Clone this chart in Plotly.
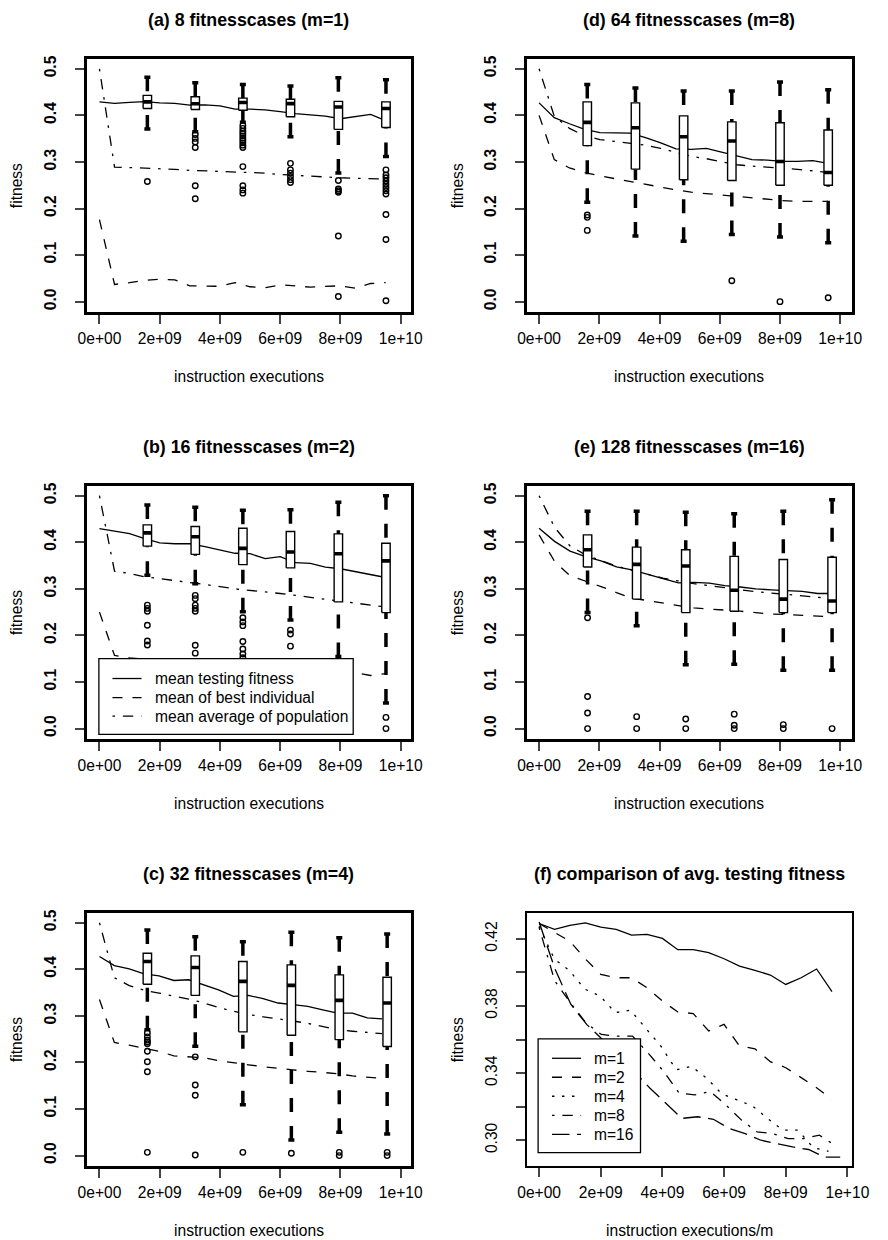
import plotly.graph_objects as go

FONT = "Liberation Sans, Arial, Helvetica, sans-serif"

# ---------------- data ----------------
X_M1 = [0.0, 0.5e9, 1.0e9, 1.5e9, 2.0e9, 2.5e9, 3.0e9, 3.5e9, 4.0e9, 4.5e9,
        5.0e9, 5.5e9, 6.0e9, 6.5e9, 7.0e9, 7.5e9, 8.0e9, 8.5e9, 9.0e9, 9.5e9]
X_M2 = [0.0, 0.5e9, 1.0e9, 1.5e9, 2.0e9, 2.5e9, 3.0e9, 3.5e9, 4.0e9, 4.5e9,
        5.0e9, 5.5e9, 6.0e9, 6.5e9, 7.0e9, 7.5e9, 8.0e9, 8.5e9, 9.0e9, 9.5e9]
X_M4 = [0.0, 0.494e9, 0.988e9, 1.482e9, 1.976e9, 2.47e9, 2.964e9, 3.458e9, 3.952e9, 4.446e9,
        4.94e9, 5.434e9, 5.928e9, 6.422e9, 6.916e9, 7.41e9, 7.904e9, 8.398e9, 8.892e9, 9.386e9]
X_M8 = [0.0, 0.505e9, 1.01e9, 1.515e9, 2.02e9, 2.525e9, 3.03e9, 3.535e9, 4.04e9, 4.545e9,
        5.05e9, 5.555e9, 6.06e9, 6.565e9, 7.07e9, 7.575e9, 8.08e9, 8.585e9, 9.09e9, 9.595e9]
X_M16 = [0.0, 0.514e9, 1.028e9, 1.542e9, 2.056e9, 2.57e9, 3.084e9, 3.598e9, 4.112e9, 4.626e9,
         5.14e9, 5.654e9, 6.168e9, 6.682e9, 7.196e9, 7.71e9, 8.224e9, 8.738e9, 9.252e9, 9.766e9]

# mean testing fitness (shared by panels a-e and f)
MEAN_M1 = [0.4291, 0.4256, 0.428, 0.4295, 0.4269, 0.4256, 0.4222, 0.4226, 0.4202, 0.4135,
           0.4135, 0.4117, 0.4081, 0.4037, 0.4012, 0.3984, 0.3928, 0.3968, 0.4020, 0.3885]
MEAN_M2 = [0.4291, 0.4240, 0.4185, 0.4080, 0.3988, 0.3968, 0.3968, 0.3908, 0.3829, 0.3764,
           0.3755, 0.3651, 0.3690, 0.3561, 0.3545, 0.3468, 0.3432, 0.3373, 0.3313, 0.3244]
MEAN_M4 = [0.4274, 0.408, 0.401, 0.390, 0.386, 0.376, 0.3775, 0.367, 0.356, 0.342,
           0.344, 0.337, 0.3276, 0.324, 0.3205, 0.313, 0.306, 0.306, 0.2956, 0.2934]
MEAN_M8 = [0.4268, 0.395, 0.382, 0.370, 0.363, 0.362, 0.362, 0.352, 0.341, 0.328,
           0.327, 0.329, 0.321, 0.312, 0.305, 0.304, 0.301, 0.301, 0.303, 0.297]
MEAN_M16 = [0.430, 0.402, 0.381, 0.369, 0.360, 0.347, 0.341, 0.331, 0.322, 0.313,
            0.314, 0.3125, 0.307, 0.304, 0.300, 0.298, 0.296, 0.2945, 0.290, 0.290]

# mean of best individual / mean average of population
A_BEST = [0.176, 0.037, 0.041, 0.046, 0.048, 0.047, 0.034, 0.033, 0.033, 0.041,
          0.032, 0.030, 0.036, 0.034, 0.031, 0.033, 0.034, 0.029, 0.039, 0.041]
A_POP = [0.500, 0.289, 0.288, 0.287, 0.286, 0.284, 0.282, 0.281, 0.280, 0.279,
         0.278, 0.276, 0.273, 0.271, 0.269, 0.267, 0.266, 0.265, 0.264, 0.263]
B_BEST = [0.250, 0.157, 0.152, 0.148, 0.145, 0.143, 0.141, 0.140, 0.139, 0.138,
          0.137, 0.136, 0.135, 0.134, 0.136, 0.140, 0.150, 0.120, 0.114, 0.118]
B_POP = [0.500, 0.338, 0.333, 0.326, 0.322, 0.318, 0.313, 0.309, 0.305, 0.300,
         0.297, 0.294, 0.290, 0.286, 0.282, 0.278, 0.274, 0.270, 0.265, 0.261]
C_BEST = [0.335, 0.243, 0.237, 0.230, 0.224, 0.214, 0.212, 0.210, 0.204, 0.199,
          0.195, 0.191, 0.187, 0.184, 0.181, 0.178, 0.176, 0.171, 0.168, 0.166]
C_POP = [0.500, 0.382, 0.365, 0.355, 0.349, 0.343, 0.336, 0.328, 0.318, 0.310,
         0.303, 0.298, 0.294, 0.289, 0.284, 0.277, 0.270, 0.267, 0.264, 0.262]
D_BEST = [0.400, 0.305, 0.287, 0.277, 0.270, 0.264, 0.258, 0.252, 0.245, 0.240,
          0.235, 0.232, 0.229, 0.226, 0.222, 0.219, 0.217, 0.2155, 0.2155, 0.2155]
D_POP = [0.500, 0.398, 0.372, 0.356, 0.348, 0.344, 0.341, 0.336, 0.329, 0.320,
         0.312, 0.307, 0.300, 0.294, 0.291, 0.289, 0.287, 0.284, 0.281, 0.277]
E_BEST = [0.416, 0.359, 0.328, 0.317, 0.305, 0.292, 0.280, 0.275, 0.269, 0.264,
          0.259, 0.257, 0.255, 0.252, 0.249, 0.246, 0.245, 0.243, 0.241, 0.240]
E_POP = [0.500, 0.432, 0.392, 0.373, 0.361, 0.349, 0.340, 0.331, 0.323, 0.317,
         0.311, 0.307, 0.302, 0.298, 0.294, 0.291, 0.288, 0.285, 0.282, 0.279]

# boxplot statistics (testing fitness)
A_BOX_X = [1.59e9, 3.18e9, 4.76e9, 6.34e9, 7.93e9, 9.51e9]
A_HI = [0.482, 0.470, 0.466, 0.463, 0.481, 0.4765]
A_Q3 = [0.443, 0.440, 0.437, 0.4345, 0.430, 0.429]
A_MED = [0.429, 0.425, 0.4275, 0.4253, 0.418, 0.4146]
A_Q1 = [0.4146, 0.4125, 0.411, 0.397, 0.370, 0.374]
A_LO = [0.3705, 0.365, 0.385, 0.354, 0.276, 0.3115]
A_OUT = [[0.258],
         [0.359, 0.3505, 0.343, 0.331, 0.249, 0.221],
         [0.378, 0.372, 0.366, 0.361, 0.356, 0.351, 0.346, 0.341, 0.336, 0.331, 0.29, 0.249, 0.240, 0.233],
         [0.297, 0.283, 0.276, 0.269, 0.262, 0.256],
         [0.260, 0.242, 0.238, 0.235, 0.141, 0.011],
         [0.283, 0.272, 0.266, 0.259, 0.252, 0.245, 0.238, 0.231, 0.187, 0.1336, 0.002]]

B_BOX_X = [1.59e9, 3.18e9, 4.76e9, 6.34e9, 7.93e9, 9.51e9]
B_HI = [0.480, 0.475, 0.469, 0.470, 0.486, 0.500]
B_Q3 = [0.4373, 0.4338, 0.430, 0.423, 0.418, 0.398]
B_MED = [0.4202, 0.412, 0.387, 0.379, 0.3754, 0.360]
B_Q1 = [0.3917, 0.374, 0.352, 0.345, 0.272, 0.249]
B_LO = [0.329, 0.311, 0.251, 0.233, 0.155, 0.055]
B_OUT = [[0.265, 0.258, 0.252, 0.222, 0.188, 0.1795],
         [0.286, 0.279, 0.265, 0.258, 0.252, 0.179, 0.162],
         [0.238, 0.229, 0.221, 0.187, 0.171, 0.160, 0.152],
         [0.2115, 0.203, 0.177],
         [],
         [0.024, 0.0]]

C_BOX_X = [1.59e9, 3.18e9, 4.76e9, 6.37e9, 7.96e9, 9.55e9]
C_HI = [0.4843, 0.470, 0.4594, 0.4793, 0.468, 0.4758]
C_Q3 = [0.4345, 0.4288, 0.4167, 0.4095, 0.388, 0.383]
C_MED = [0.4167, 0.4038, 0.374, 0.3654, 0.3333, 0.3276]
C_Q1 = [0.368, 0.344, 0.2657, 0.2585, 0.249, 0.2343]
C_LO = [0.270, 0.235, 0.109, 0.0335, 0.050, 0.0463]
C_OUT = [[0.2635, 0.255, 0.248, 0.244, 0.240, 0.224, 0.2016, 0.180, 0.007],
         [0.212, 0.1517, 0.1296, 0.0014],
         [0.007],
         [0.005],
         [0.007, 0.0],
         [0.007, 0.0]]

D_BOX_X = [1.6e9, 3.2e9, 4.8e9, 6.4e9, 8.0e9, 9.6e9]
D_HI = [0.466, 0.459, 0.4524, 0.4524, 0.4716, 0.455]
D_Q3 = [0.429, 0.4268, 0.399, 0.386, 0.384, 0.3685]
D_MED = [0.385, 0.3735, 0.3542, 0.345, 0.301, 0.2774]
D_Q1 = [0.335, 0.2845, 0.2618, 0.260, 0.250, 0.250]
D_LO = [0.2134, 0.1408, 0.1295, 0.144, 0.1387, 0.1266]
D_OUT = [[0.186, 0.181, 0.153], [], [], [0.0448], [0.0], [0.0085]]

E_BOX_X = [1.61e9, 3.24e9, 4.87e9, 6.48e9, 8.11e9, 9.73e9]
E_HI = [0.4665, 0.4665, 0.4644, 0.461, 0.4665, 0.4915]
E_Q3 = [0.416, 0.3896, 0.384, 0.3697, 0.363, 0.368]
E_MED = [0.384, 0.3526, 0.349, 0.297, 0.278, 0.274]
E_Q1 = [0.347, 0.278, 0.249, 0.252, 0.249, 0.249]
E_LO = [0.249, 0.2208, 0.1368, 0.138, 0.125, 0.125]
E_OUT = [[0.238, 0.069, 0.0335, 0.0], [0.0256, 0.0], [0.0207, 0.0],
         [0.031, 0.007, 0.0], [0.0085, 0.0], [0.0]]

TITLES = ["(a) 8 fitnesscases (m=1)", "(d) 64 fitnesscases (m=8)",
          "(b) 16 fitnesscases (m=2)", "(e) 128 fitnesscases (m=16)",
          "(c) 32 fitnesscases (m=4)", "(f) comparison of avg. testing fitness"]
X_TICKS = [0.0, 2e9, 4e9, 6e9, 8e9, 1e10]
X_TICKTEXT = ["0e+00", "2e+09", "4e+09", "6e+09", "8e+09", "1e+10"]
Y_TICKS = [0.0, 0.1, 0.2, 0.3, 0.4, 0.5]
Y_TICKTEXT = ["0.0", "0.1", "0.2", "0.3", "0.4", "0.5"]
F_Y_TICKS = [0.30, 0.32, 0.34, 0.36, 0.38, 0.40, 0.42]
F_Y_TICKTEXT = ["0.30", "", "0.34", "", "0.38", "", "0.42"]
LEGEND_B = ["mean testing fitness", "mean of best individual", "mean average of population"]
LEGEND_F = ["m=1", "m=2", "m=4", "m=8", "m=16"]

# ---------------- styles ----------------
FS = 15.6
BOX_HALF = 0.14e9
STAPLE_HALF = 0.10e9
DASH = "10px,10px"
DOTDASH = "2.6px,7.8px,10.4px,7.8px"
DOTTED = "2.5px,7.5px"
LONGDASH = "17.5px,7.5px"
WHISK_DASH = "14px,14px"
LW = 1.3
W, H = 888, 1240

fig = go.Figure()


def ax(i, kind):
    return kind if i == 1 else f"{kind}{i}"


def add_lines(i, xs, series, dashes, names=None):
    for k, (ys, d) in enumerate(zip(series, dashes)):
        fig.add_trace(go.Scatter(
            x=xs, y=ys, mode="lines",
            line=dict(color="black", width=LW, dash=d),
            xaxis=ax(i, "x"), yaxis=ax(i, "y"),
            name=names[k] if names else None,
            showlegend=False, hoverinfo="skip"))


def add_boxes(i, bx, lo, q1, med, q3, hi, outs):
    xa, ya = ax(i, "x"), ax(i, "y")
    wx, wy, sx, sy, rx, ry, mx, my, ox, oy = [], [], [], [], [], [], [], [], [], []
    for x, l, a, m, b, h, o in zip(bx, lo, q1, med, q3, hi, outs):
        wx += [x, x, None, x, x, None]
        wy += [l, a, None, h, b, None]
        sx += [x - STAPLE_HALF, x + STAPLE_HALF, None, x - STAPLE_HALF, x + STAPLE_HALF, None]
        sy += [l, l, None, h, h, None]
        rx += [x - BOX_HALF, x + BOX_HALF, x + BOX_HALF, x - BOX_HALF, x - BOX_HALF, None]
        ry += [a, a, b, b, a, None]
        mx += [x - BOX_HALF, x + BOX_HALF, None]
        my += [m, m, None]
        ox += [x] * len(o)
        oy += list(o)
    common = dict(xaxis=xa, yaxis=ya, showlegend=False, hoverinfo="skip")
    fig.add_trace(go.Scatter(x=wx, y=wy, mode="lines",
                             line=dict(color="black", width=3.5, dash=WHISK_DASH), **common))
    fig.add_trace(go.Scatter(x=sx, y=sy, mode="lines",
                             line=dict(color="black", width=3.5), **common))
    fig.add_trace(go.Scatter(x=rx, y=ry, mode="lines", fill="toself", fillcolor="white",
                             line=dict(color="black", width=1.4), **common))
    fig.add_trace(go.Scatter(x=mx, y=my, mode="lines",
                             line=dict(color="black", width=3.6), **common))
    fig.add_trace(go.Scatter(x=ox, y=oy, mode="markers",
                             marker=dict(symbol="circle-open", size=5.5, color="black",
                                         line=dict(width=1.4)), **common))


# panel (a)
add_lines(1, X_M1, [MEAN_M1, A_BEST, A_POP], ["solid", DASH, DOTDASH])
add_boxes(1, A_BOX_X, A_LO, A_Q1, A_MED, A_Q3, A_HI, A_OUT)
# panel (d)
add_lines(2, X_M8, [MEAN_M8, D_BEST, D_POP], ["solid", DASH, DOTDASH])
add_boxes(2, D_BOX_X, D_LO, D_Q1, D_MED, D_Q3, D_HI, D_OUT)
# panel (b)
add_lines(3, X_M2, [MEAN_M2, B_BEST, B_POP], ["solid", DASH, DOTDASH], names=LEGEND_B)
add_boxes(3, B_BOX_X, B_LO, B_Q1, B_MED, B_Q3, B_HI, B_OUT)
# panel (e)
add_lines(4, X_M16, [MEAN_M16, E_BEST, E_POP], ["solid", DASH, DOTDASH])
add_boxes(4, E_BOX_X, E_LO, E_Q1, E_MED, E_Q3, E_HI, E_OUT)
# panel (c)
add_lines(5, X_M4, [MEAN_M4, C_BEST, C_POP], ["solid", DASH, DOTDASH])
add_boxes(5, C_BOX_X, C_LO, C_Q1, C_MED, C_Q3, C_HI, C_OUT)
# panel (f)
F_DASHES = ["solid", DASH, DOTTED, DOTDASH, LONGDASH]
for xs, ys, d, nm in zip([X_M1, X_M2, X_M4, X_M8, X_M16],
                         [MEAN_M1, MEAN_M2, MEAN_M4, MEAN_M8, MEAN_M16],
                         F_DASHES, LEGEND_F):
    fig.add_trace(go.Scatter(x=xs, y=ys, mode="lines", name=nm, showlegend=False,
                             line=dict(color="black", width=LW, dash=d),
                             xaxis="x6", yaxis="y6", hoverinfo="skip"))

# ---------------- layout ----------------
COLS = [(80, 415), (534, 869)]
ROWS = [(55, 309), (483.3, 737.3), (911.7, 1165.7)]
X_RANGES = [[-0.428e9, 10.354e9], [-0.409e9, 10.377e9]]

layout = dict(width=W, height=H, margin=dict(l=0, r=0, t=0, b=0),
              paper_bgcolor="white", plot_bgcolor="white", showlegend=False,
              font=dict(family=FONT, size=FS, color="black"))
annotations = []
shapes = []
for i in range(1, 7):
    r, c = (i - 1) // 2, (i - 1) % 2
    x0, x1 = COLS[c]
    y0, y1 = ROWS[r]
    xr = X_RANGES[c] if i != 6 else [-0.4e9, 10.135e9]
    frame_w = 2.5 if i != 6 else 2.0
    layout[ax(i, "xaxis")] = dict(
        domain=[x0 / W, x1 / W], range=xr, anchor=ax(i, "y"),
        tickvals=X_TICKS, ticktext=X_TICKTEXT, ticks="outside", ticklen=9,
        tickwidth=2, showline=True, linewidth=frame_w, linecolor="black", mirror=True,
        showgrid=False, zeroline=False, ticklabelstandoff=2,
        tickfont=dict(size=FS, family=FONT, color="black"), fixedrange=True)
    if i != 6:
        ytv, ytt, yr = Y_TICKS, ["<b>%s</b>" % t for t in Y_TICKTEXT], [-0.0222, 0.5214]
    else:
        ytv, ytt, yr = F_Y_TICKS, F_Y_TICKTEXT, [0.2847, 0.4355]
    layout[ax(i, "yaxis")] = dict(
        domain=[1 - y1 / H, 1 - y0 / H], range=yr, anchor=ax(i, "x"),
        tickvals=ytv, ticktext=ytt, ticks="outside", ticklen=9, tickwidth=2,
        tickangle=-90, showline=True, linewidth=frame_w, linecolor="black", mirror=True,
        showgrid=False, zeroline=False, ticklabelstandoff=13,
        tickfont=dict(size=FS, family=FONT, color="black"), fixedrange=True)
    cx = (x0 + x1) / 2 / W
    annotations.append(dict(text="<b>%s</b>" % TITLES[i - 1], x=cx, y=1 - (y0 - 39) / H,
                            xref="paper", yref="paper", showarrow=False,
                            xanchor="center", yanchor="middle",
                            font=dict(size=17.8, family=FONT, color="black")))
    annotations.append(dict(text="instruction executions" + ("/m" if i == 6 else ""),
                            x=cx, y=1 - (y1 + 65) / H, xref="paper", yref="paper",
                            showarrow=False, xanchor="center", yanchor="middle",
                            font=dict(size=FS, family=FONT, color="black")))
    annotations.append(dict(text="fitness", x=(x0 - 72) / W, y=1 - (y0 + y1) / 2 / H,
                            xref="paper", yref="paper", showarrow=False, textangle=-90,
                            xanchor="center", yanchor="middle",
                            font=dict(size=FS, family=FONT, color="black")))


def add_legend(box, item_ys, key_x, text_x, labels, dashes):
    bx0, by0, bx1, by1 = box
    shapes.append(dict(type="rect", xref="paper", yref="paper", layer="above",
                       x0=bx0 / W, x1=bx1 / W, y0=1 - by1 / H, y1=1 - by0 / H,
                       fillcolor="white", line=dict(color="black", width=1.3)))
    for yy, lab, d in zip(item_ys, labels, dashes):
        shapes.append(dict(type="line", xref="paper", yref="paper", layer="above",
                           x0=key_x[0] / W, x1=key_x[1] / W, y0=1 - yy / H, y1=1 - yy / H,
                           line=dict(color="black", width=LW, dash=d)))
        annotations.append(dict(text=lab, x=text_x / W, y=1 - yy / H, xref="paper",
                                yref="paper", showarrow=False, xanchor="left",
                                yanchor="middle",
                                font=dict(size=FS, family=FONT, color="black")))


add_legend((92.7, 656.7, 355, 732.7), [676.7, 695.8, 714.5], (106.7, 136.7), 148.5,
           LEGEND_B, ["solid", DASH, DOTDASH])
add_legend((545.7, 1038.3, 651.3, 1152.3), [1057.7, 1076.7, 1095.8, 1114.9, 1134],
           (560, 590), 601.5, LEGEND_F, F_DASHES)

layout["annotations"] = annotations
layout["shapes"] = shapes
fig.update_layout(**layout)
fig.write_html("out.html")
